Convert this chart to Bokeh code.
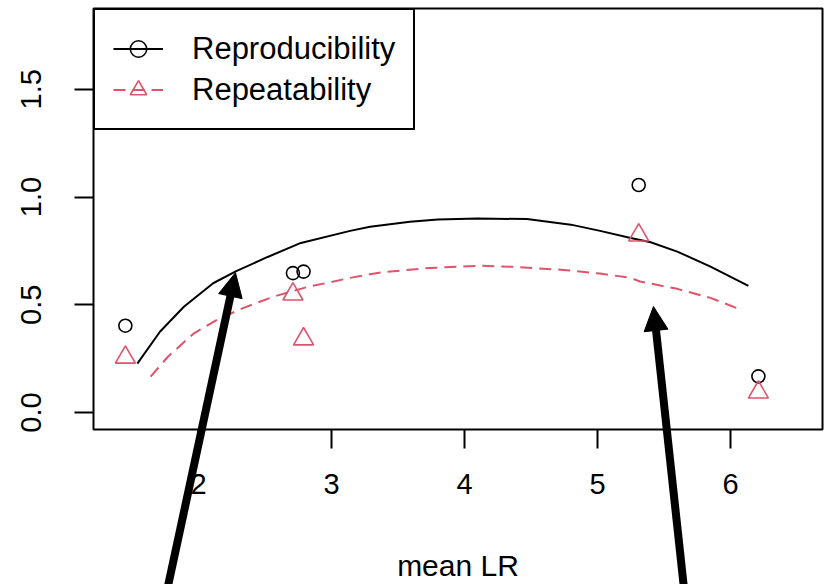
from bokeh.plotting import figure
from bokeh.layouts import column
from bokeh.models import (Range1d, FixedTicker, NumeralTickFormatter, Legend,
                          LegendItem, Arrow, NormalHead, ColumnDataSource)
from bokeh.embed import file_html
from bokeh.resources import INLINE

# observed points
mean_lr = [1.45, 2.71, 2.79, 5.31, 6.21]
reproducibility = [0.403, 0.647, 0.654, 1.056, 0.168]
repeatability = [0.256, 0.549, 0.341, 0.823, 0.094]

# smoothed trends
repro_fit_x = [1.54, 1.71, 1.89, 2.11, 2.28, 2.52, 2.77, 3.14, 3.29, 3.59, 3.80,
               4.10, 4.47, 4.80, 5.02, 5.25, 5.40, 5.60, 5.85, 6.135]
repro_fit_y = [0.227, 0.375, 0.491, 0.600, 0.655, 0.722, 0.787, 0.843, 0.862, 0.885,
               0.896, 0.900, 0.898, 0.872, 0.843, 0.810, 0.790, 0.747, 0.677, 0.588]
repeat_fit_x = [1.64, 1.77, 1.96, 2.14, 2.34, 2.56, 2.82, 3.00, 3.14, 3.37, 3.74,
                4.12, 4.37, 4.74, 5.02, 5.25, 5.32, 5.60, 5.85, 6.08]
repeat_fit_y = [0.167, 0.259, 0.365, 0.431, 0.486, 0.537, 0.583, 0.606, 0.625, 0.650,
                0.671, 0.681, 0.676, 0.662, 0.645, 0.625, 0.608, 0.574, 0.532, 0.477]

# pointer arrows (tail below the axis, tip on a curve)
arrow_x_start = [1.752, 5.658]
arrow_y_start = [-0.852, -0.852]
arrow_x_end = [2.278, 5.421]
arrow_y_end = [0.652, 0.495]

x_ticks = [2, 3, 4, 5, 6]
y_ticks = [0.0, 0.5, 1.0, 1.5]

RED = "#DF536B"
FONT = "Liberation Sans"

W, H = 827, 584
BL, BR, BT, BB = 93, 5, 8, 154
X0, X1 = 1.2105, 6.692
Y0, Y1 = -0.0787, 1.875

p = figure(width=W, height=H, output_backend="svg", toolbar_location=None,
           x_range=Range1d(X0, X1), y_range=Range1d(Y0, Y1),
           min_border_left=BL, min_border_right=BR, min_border_top=BT,
           min_border_bottom=BB)
p.background_fill_color = "white"
p.border_fill_color = "white"
p.outline_line_color = "black"
p.outline_line_width = 2
p.xgrid.visible = False
p.ygrid.visible = False

for ax in (p.xaxis[0], p.yaxis[0]):
    ax.axis_line_color = None
    ax.major_tick_out = 19
    ax.major_tick_in = 0
    ax.major_tick_line_width = 2
    ax.major_tick_line_color = "black"
    ax.minor_tick_line_color = None
    ax.major_label_text_font = FONT
    ax.major_label_text_font_size = "29px"
    ax.major_label_text_color = "black"

p.xaxis.ticker = FixedTicker(ticks=x_ticks)
p.xaxis.major_label_standoff = 25
p.xaxis.axis_label = "mean LR"
p.xaxis.axis_label_text_font = FONT
p.xaxis.axis_label_text_font_size = "30px"
p.xaxis.axis_label_text_font_style = "normal"
p.xaxis.axis_label_text_color = "black"
p.xaxis.axis_label_standoff = 52

p.yaxis.ticker = FixedTicker(ticks=y_ticks)
p.yaxis.formatter = NumeralTickFormatter(format="0.0")
p.yaxis.major_label_orientation = "vertical"
p.yaxis.major_label_standoff = 33

repro_line = p.line(repro_fit_x, repro_fit_y, line_color="black", line_width=2)
repeat_line = p.line(repeat_fit_x, repeat_fit_y, line_color=RED, line_width=2,
                     line_dash="12 7")
repro_pts = p.scatter(mean_lr, reproducibility, marker="circle", size=13,
                      fill_color=None, line_color="black", line_width=1.6)
repeat_pts = p.scatter(mean_lr, repeatability, marker="triangle", size=20,
                       fill_color=None, line_color=RED, line_width=1.6)

legend = Legend(items=[
    LegendItem(label="Reproducibility", renderers=[repro_line, repro_pts]),
    LegendItem(label="Repeatability", renderers=[repeat_line, repeat_pts]),
], location="top_left", margin=0, padding=18, spacing=0,
    glyph_width=50, glyph_height=41, label_height=41, label_standoff=29,
    label_text_font=FONT, label_text_font_size="31px", label_text_color="black",
    border_line_color="black", border_line_width=2, border_line_alpha=1.0,
    background_fill_color="white", background_fill_alpha=1.0)
p.add_layout(legend)

# Transparent layer stacked over the plot. Its frame lines up with the plot
# frame horizontally (shared x range) and spans the full canvas height, so the
# arrows can run below the plot frame down to the bottom edge.
ppy = (H - BT - BB) / (Y1 - Y0)
ov = figure(width=W, height=H, output_backend="svg", toolbar_location=None,
            x_range=p.x_range,
            y_range=Range1d(Y0 - BB / ppy, Y1 + BT / ppy),
            min_border_left=BL, min_border_right=BR, min_border_top=0,
            min_border_bottom=0, x_axis_type=None, y_axis_type=None)
ov.xgrid.visible = False
ov.ygrid.visible = False
ov.outline_line_color = None
ov.background_fill_alpha = 0
ov.border_fill_alpha = 0
ov.styles = {"position": "absolute", "top": "0px", "left": "0px"}

arrows = ColumnDataSource(dict(x0=arrow_x_start, y0=arrow_y_start,
                               x1=arrow_x_end, y1=arrow_y_end))
ov.add_layout(Arrow(source=arrows, x_start="x0", y_start="y0", x_end="x1", y_end="y1",
                    line_color="black", line_width=8,
                    end=NormalHead(size=24, fill_color="black", line_color="black",
                                   line_width=1)))

layout = column(p, ov)
open("out.html", "w").write(file_html(layout, INLINE))
